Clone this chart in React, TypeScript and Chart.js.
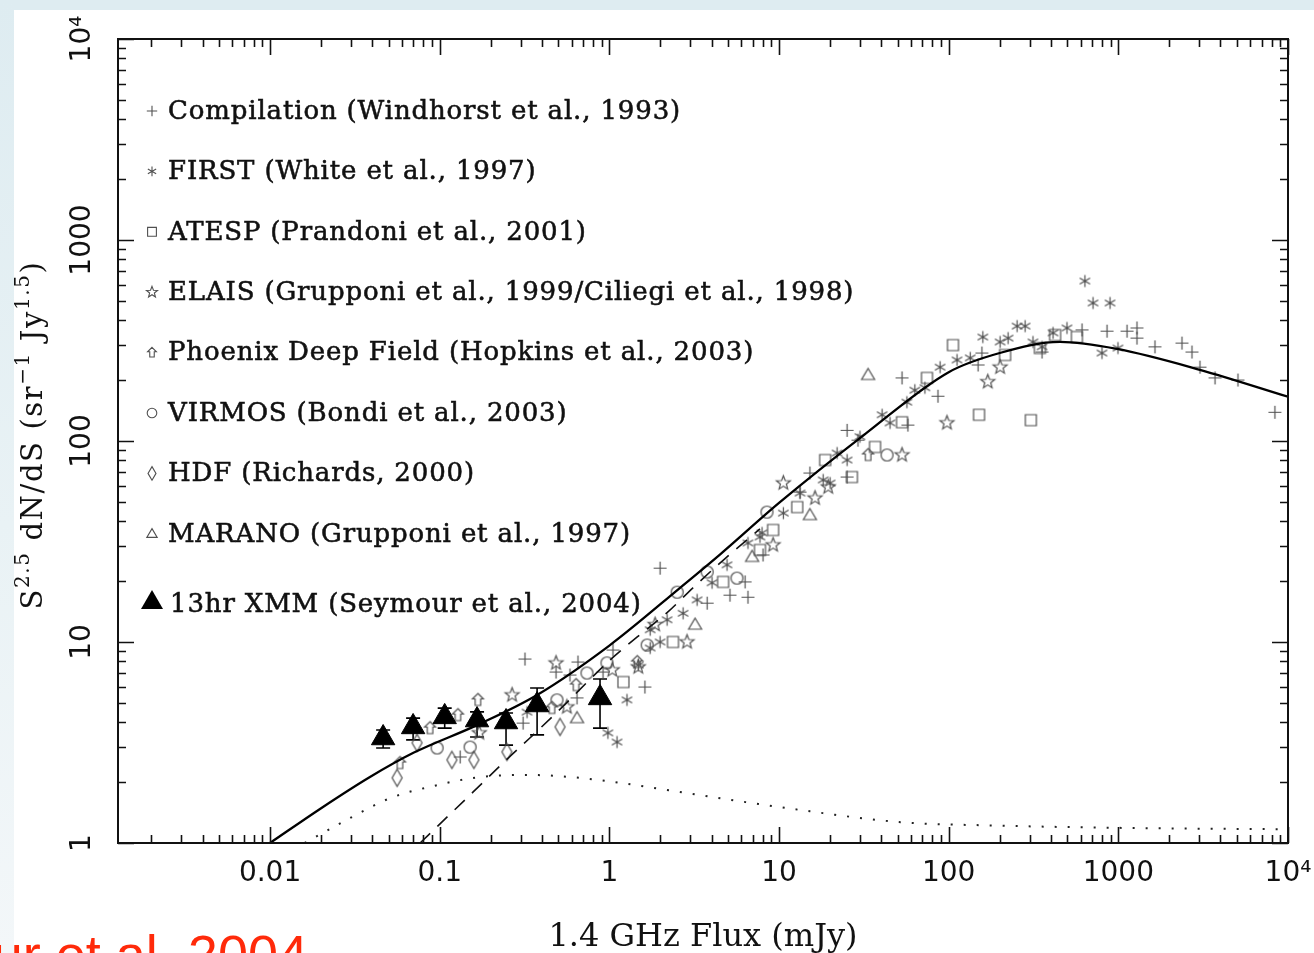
import React, { useEffect, useRef } from 'react';
import { Chart, registerables } from 'chart.js';

Chart.register(...registerables);

// ---------- axis ----------
const X_MIN = 0.00127;
const X_MAX = 10000;
const Y_MIN = 1;
const Y_MAX = 10000;
const xTickValues = [0.01, 0.1, 1, 10, 100, 1000, 10000];
const xTickLabels = ['0.01', '0.1', '1', '10', '100', '1000', '10⁴'];
const yTickValues = [1, 10, 100, 1000, 10000];
const yTickLabels = ['1', '10', '100', '1000', '10⁴'];
const xTitle = '1.4 GHz Flux (mJy)';
const yTitleParts: [string, boolean][] = [
  ['S', false], ['2.5', true], [' dN/dS (sr', false], ['−1', true], [' Jy', false], ['1.5', true], [')', false],
];
const creditText = 'Seymour et al. 2004';

// ---------- model curves ----------
const solidX = [0.01, 0.02, 0.0388, 0.07, 0.166, 0.375, 1, 2.61, 4.5, 10, 31.6, 100, 200, 453, 981, 3027, 10000];
const solidY = [1.0, 1.49, 2.13, 2.81, 3.86, 5.45, 9.6, 18.6, 27.3, 49.2, 107, 220, 274, 311, 287, 226, 166];
const dashX = [0.0766, 0.157, 0.236, 0.34, 0.492, 1.01, 1.46, 2.19, 3.11, 4.68, 7.72];
const dashY = [1.0, 1.79, 2.5, 3.33, 4.48, 8.14, 10.6, 14.0, 18.6, 25.5, 36.5];
const dotX = [0.016, 0.0296, 0.0509, 0.0965, 0.173, 0.34, 0.586, 1.16, 3.42, 13.3, 51.7, 201, 981, 10000];
const dotY = [1.0, 1.33, 1.67, 1.94, 2.13, 2.18, 2.13, 1.99, 1.73, 1.46, 1.27, 1.22, 1.19, 1.17];

// ---------- survey data ----------
const compX = [0.132, 0.318, 0.485, 0.653, 0.645, 0.31, 1.05, 1.62, 1.99, 0.586, 0.918, 5.14, 6.56, 6.31, 8.05, 3.77, 25.2, 15.2, 86.5, 57.5, 29.2, 25.2, 13.3, 53.1, 157, 149, 355, 611, 858, 1125, 1288, 1288, 1644, 2371, 2717, 3027, 3715, 5070, 8375];
const compY = [2.68, 8.23, 7.09, 7.95, 5.27, 3.95, 9.12, 5.97, 23.3, 6.85, 7.09, 17.1, 16.7, 19.9, 27.1, 15.6, 113, 69.3, 167, 120, 101, 66.2, 55.7, 206, 274, 239, 277, 357, 352, 352, 365, 325, 294, 307, 277, 233, 206, 201, 139];

const firstX = [635, 709, 893, 801, 995, 253, 282, 159, 201, 224, 314, 355, 412, 498, 89, 112, 134, 63.2, 56.7, 72.4, 40.5, 45.1, 30.0, 25.2, 22.0, 18.2, 20.0, 13.3, 10.6, 7.72, 6.56, 7.94, 4.94, 4.03, 3.29, 2.72, 2.19, 1.74, 1.74, 1.48, 1.27, 1.99, 0.98, 1.11, 0.327];
const firstY = [625, 486, 486, 274, 290, 373, 373, 329, 311, 325, 311, 294, 345, 365, 233, 253, 259, 179, 156, 184, 135, 123, 105, 80.4, 87.1, 64.0, 61.8, 55.1, 43.8, 33.3, 31.1, 34.9, 24.2, 19.7, 16.2, 13.9, 12.9, 11.5, 9.34, 7.68, 5.15, 10.0, 3.53, 3.18, 4.48];

const atespX = [106, 151, 305, 215, 74.5, 424, 345, 570, 53.1, 36.8, 26.9, 18.7, 12.8, 9.23, 7.72, 4.68, 2.37, 1.21];
const atespY = [300, 135, 127, 268, 206, 337, 290, 329, 124, 93.4, 66.2, 80.4, 46.9, 36.1, 28.7, 19.9, 10.0, 6.32];

const elaisX = [201, 170, 97.7, 53.1, 10.6, 16.3, 19.5, 9.23, 2.87, 1.86, 1.48, 0.485, 0.267, 0.562, 0.171, 1.04];
const elaisY = [233, 197, 123, 85.2, 61.8, 52.0, 59.0, 30.4, 10.0, 12.2, 7.51, 7.86, 5.45, 4.75, 3.53, 7.26];

const phoenixX = [0.636, 0.459, 0.168, 0.128, 0.0877, 0.0583, 1.46, 33.5];
const phoenixY = [6.11, 4.7, 5.15, 4.33, 3.73, 2.5, 7.95, 85.2];

const virmosX = [43.3, 8.49, 5.65, 3.77, 2.51, 1.67, 0.738, 0.491, 0.151, 0.0965, 0.968];
const virmosY = [85.2, 44.3, 20.8, 22.3, 17.7, 9.66, 7.01, 5.15, 3.0, 2.97, 7.87];

const hdfX = [0.512, 0.249, 0.118, 0.159, 0.0735, 0.0561];
const hdfY = [3.78, 2.84, 2.59, 2.59, 3.15, 2.11];

const maranoX = [33.5, 15.2, 3.2, 6.94, 0.645];
const maranoY = [213, 42.8, 12.2, 26.5, 4.18];

const xmmX = [0.0464, 0.0697, 0.107, 0.166, 0.246, 0.375, 0.881];
const xmmY = [3.33, 3.78, 4.24, 4.09, 4.0, 4.86, 5.27];
const xmmLo = [2.97, 3.26, 3.73, 3.37, 3.07, 3.45, 3.73];
const xmmHi = [3.65, 4.18, 4.69, 4.49, 4.43, 5.9, 6.55];

// ---------- legend ----------
const legendKinds = ['plus', 'asterisk', 'square', 'star', 'phoenix', 'circle', 'diamond', 'triangle'];
const legendLabels = [
  'Compilation (Windhorst et al., 1993)',
  'FIRST (White et al., 1997)',
  'ATESP (Prandoni et al., 2001)',
  'ELAIS (Grupponi et al., 1999/Ciliegi et al., 1998)',
  'Phoenix Deep Field (Hopkins et al., 2003)',
  'VIRMOS (Bondi et al., 2003)',
  'HDF (Richards, 2000)',
  'MARANO (Grupponi et al., 1997)',
];
const xmmLabel = '13hr XMM (Seymour et al., 2004)';

const MARK_COLOR = '#505050';

function drawShape(g: CanvasRenderingContext2D, kind: string, s: number) {
  g.beginPath();
  switch (kind) {
    case 'plus':
      g.moveTo(-6.5 * s, 0); g.lineTo(6.5 * s, 0);
      g.moveTo(0, -6.5 * s); g.lineTo(0, 6.5 * s);
      break;
    case 'asterisk':
      for (let k = 0; k < 3; k++) {
        const a = Math.PI / 2 + (k * Math.PI) / 3;
        g.moveTo(Math.cos(a) * 6 * s, Math.sin(a) * 6 * s);
        g.lineTo(-Math.cos(a) * 6 * s, -Math.sin(a) * 6 * s);
      }
      break;
    case 'square':
      g.rect(-5.5 * s, -5.5 * s, 11 * s, 11 * s);
      break;
    case 'star':
      for (let k = 0; k < 10; k++) {
        const r = k % 2 ? 3.1 * s : 7.3 * s;
        const a = -Math.PI / 2 + (k * Math.PI) / 5;
        const px = Math.cos(a) * r, py = Math.sin(a) * r;
        if (k === 0) g.moveTo(px, py); else g.lineTo(px, py);
      }
      g.closePath();
      break;
    case 'phoenix': {
      const p = [[0, -6.5], [5.5, -1], [2.8, -1], [2.8, 5.5], [-2.8, 5.5], [-2.8, -1], [-5.5, -1]];
      p.forEach(([a, b], i) => (i === 0 ? g.moveTo(a * s, b * s) : g.lineTo(a * s, b * s)));
      g.closePath();
      break;
    }
    case 'circle':
      g.arc(0, 0, 6 * s, 0, Math.PI * 2);
      break;
    case 'diamond':
      g.moveTo(0, -8.5 * s); g.lineTo(5 * s, 0); g.lineTo(0, 8.5 * s); g.lineTo(-5 * s, 0); g.closePath();
      break;
    case 'triangle':
      g.moveTo(0, -6.5 * s); g.lineTo(6.5 * s, 4.5 * s); g.lineTo(-6.5 * s, 4.5 * s); g.closePath();
      break;
  }
  g.stroke();
}

function makeMarker(kind: string, s: number): HTMLCanvasElement {
  const c = document.createElement('canvas');
  const size = 21;
  c.width = size; c.height = size;
  const g = c.getContext('2d')!;
  g.translate(size / 2, size / 2);
  g.strokeStyle = MARK_COLOR;
  g.lineWidth = 1.2;
  drawShape(g, kind, s);
  return c;
}

const pts = (xs: number[], ys: number[]) => xs.map((x, i) => ({ x, y: ys[i] }));

function setSpacing(ctx: any, v: string) {
  try { ctx.letterSpacing = v; } catch (e) { /* ignore */ }
}

const decorPlugin = {
  id: 'decor',
  beforeDatasetsDraw(chart: any) {
    const { ctx } = chart;
    const xs = chart.scales.x, ys = chart.scales.y;
    ctx.save();
    ctx.strokeStyle = '#000';
    ctx.lineWidth = 1.6;
    for (let i = 0; i < xmmX.length; i++) {
      const px = xs.getPixelForValue(xmmX[i]);
      const lo = ys.getPixelForValue(xmmLo[i]);
      const hi = ys.getPixelForValue(xmmHi[i]);
      ctx.beginPath();
      ctx.moveTo(px, lo); ctx.lineTo(px, hi);
      ctx.moveTo(px - 7, lo); ctx.lineTo(px + 7, lo);
      ctx.moveTo(px - 7, hi); ctx.lineTo(px + 7, hi);
      ctx.stroke();
    }
    ctx.restore();
  },
  afterDraw(chart: any) {
    const { ctx, chartArea: a } = chart;
    const xs = chart.scales.x, ys = chart.scales.y;
    ctx.save();
    // ticks (inward, all four sides)
    ctx.strokeStyle = '#111';
    ctx.lineWidth = 1.6;
    ctx.beginPath();
    for (let d = -3; d <= 4; d++) {
      for (let m = 1; m <= 9; m++) {
        const v = m * Math.pow(10, d);
        if (v < X_MIN || v > X_MAX * 1.0001) continue;
        const p = Math.round(xs.getPixelForValue(v)) + 0.5;
        const L = m === 1 ? 16 : 8;
        ctx.moveTo(p, a.bottom); ctx.lineTo(p, a.bottom - L);
        ctx.moveTo(p, a.top); ctx.lineTo(p, a.top + L);
      }
    }
    for (let d = 0; d <= 4; d++) {
      for (let m = 1; m <= 9; m++) {
        const v = m * Math.pow(10, d);
        if (v < Y_MIN || v > Y_MAX * 1.0001) continue;
        const p = Math.round(ys.getPixelForValue(v)) + 0.5;
        const L = m === 1 ? 16 : 8;
        ctx.moveTo(a.left, p); ctx.lineTo(a.left + L, p);
        ctx.moveTo(a.right, p); ctx.lineTo(a.right - L, p);
      }
    }
    ctx.stroke();
    ctx.lineWidth = 2;
    ctx.strokeRect(a.left, a.top, a.right - a.left, a.bottom - a.top);

    // legend
    ctx.fillStyle = '#111';
    ctx.strokeStyle = '#111';
    ctx.textBaseline = 'middle';
    ctx.textAlign = 'left';
    ctx.font = '26px "DejaVu Serif"';
    setSpacing(ctx, '0.85px');
    for (let i = 0; i < legendLabels.length; i++) {
      const y = a.top + 72 + i * 60.4;
      ctx.save();
      ctx.translate(a.left + 34, y);
      ctx.strokeStyle = MARK_COLOR;
      ctx.lineWidth = 1.1;
      drawShape(ctx, legendKinds[i], 0.8);
      ctx.restore();
      ctx.lineWidth = 0.55;
      ctx.fillText(legendLabels[i], a.left + 50, y + 1);
      ctx.strokeText(legendLabels[i], a.left + 50, y + 1);
    }
    const yx = a.top + 565;
    ctx.save();
    ctx.translate(a.left + 34, yx - 3);
    ctx.fillStyle = '#000';
    ctx.beginPath();
    ctx.moveTo(0, -11); ctx.lineTo(11, 8); ctx.lineTo(-11, 8); ctx.closePath();
    ctx.fill();
    ctx.restore();
    ctx.lineWidth = 0.55;
    ctx.fillText(xmmLabel, a.left + 52, yx + 1);
    ctx.strokeText(xmmLabel, a.left + 52, yx + 1);
    setSpacing(ctx, '0px');

    // y-axis title with superscripts
    ctx.save();
    const cy = (a.top + a.bottom) / 2 - 6;
    ctx.translate(a.left - 76, cy);
    ctx.rotate(-Math.PI / 2);
    ctx.textBaseline = 'alphabetic';
    ctx.fillStyle = '#111';
    setSpacing(ctx, '1.6px');
    const nf = '29px "DejaVu Serif"', sf = '20px "DejaVu Serif"';
    let total = 0;
    for (const [t, sup] of yTitleParts) { ctx.font = sup ? sf : nf; total += ctx.measureText(t).width; }
    let x = -total / 2;
    for (const [t, sup] of yTitleParts) {
      ctx.font = sup ? sf : nf;
      ctx.fillText(t, x, sup ? -13 : 0);
      x += ctx.measureText(t).width;
    }
    setSpacing(ctx, '0px');
    ctx.restore();
    ctx.restore();
  },
};

export default function App() {
  const ref = useRef<HTMLCanvasElement>(null);
  useEffect(() => {
    const canvas = ref.current!;
    const open = (label: string, xs: number[], ys: number[], kind: string) => ({
      label,
      data: pts(xs, ys),
      pointStyle: makeMarker(kind, 1),
      pointRadius: 7,
      showLine: false,
      borderColor: MARK_COLOR,
      backgroundColor: 'rgba(0,0,0,0)',
    });
    const datasets: any[] = [
      {
        label: '13hr XMM', data: pts(xmmX, xmmY), pointStyle: 'triangle', pointRadius: 13.5,
        backgroundColor: '#000', borderColor: '#000', borderWidth: 1, showLine: false,
      },
      {
        label: 'Total', data: pts(solidX, solidY), showLine: true, pointRadius: 0,
        borderColor: '#000', borderWidth: 2.3, cubicInterpolationMode: 'monotone', fill: false,
      },
      {
        label: 'AGN', data: pts(dashX, dashY), showLine: true, pointRadius: 0,
        borderColor: '#111', borderWidth: 1.6, borderDash: [14, 10], cubicInterpolationMode: 'monotone', fill: false,
      },
      {
        label: 'Star-forming', data: pts(dotX, dotY), showLine: true, pointRadius: 0,
        borderColor: '#222', borderWidth: 2, borderDash: [2, 11], cubicInterpolationMode: 'monotone', fill: false,
      },
      open('Compilation', compX, compY, 'plus'),
      open('FIRST', firstX, firstY, 'asterisk'),
      open('ATESP', atespX, atespY, 'square'),
      open('ELAIS', elaisX, elaisY, 'star'),
      open('Phoenix', phoenixX, phoenixY, 'phoenix'),
      open('VIRMOS', virmosX, virmosY, 'circle'),
      open('HDF', hdfX, hdfY, 'diamond'),
      open('MARANO', maranoX, maranoY, 'triangle'),
    ];
    const chart = new Chart(canvas, {
      type: 'scatter',
      data: { datasets },
      options: {
        responsive: false,
        animation: false,
        events: [],
        layout: { padding: { top: 39, right: 26, left: 0, bottom: 0 } },
        plugins: { legend: { display: false }, tooltip: { enabled: false } },
        scales: {
          x: {
            type: 'logarithmic', position: 'bottom', min: X_MIN, max: X_MAX,
            grid: { display: false, drawTicks: false }, border: { display: false },
            afterBuildTicks: (s: any) => { s.ticks = xTickValues.map((v) => ({ value: v })); },
            afterFit: (s: any) => { s.height = 110; s.paddingRight = 0; s.paddingLeft = 0; },
            ticks: {
              autoSkip: false, maxRotation: 0, minRotation: 0, padding: 14, color: '#111',
              font: { family: 'DejaVu Sans', size: 28 },
              callback: (_v: any, i: number) => xTickLabels[i],
            },
            title: {
              display: true, text: xTitle, color: '#111',
              font: { family: 'DejaVu Serif', size: 32 }, padding: { top: 0, bottom: -4 },
            },
          },
          y: {
            type: 'logarithmic', position: 'left', min: Y_MIN, max: Y_MAX,
            grid: { display: false, drawTicks: false }, border: { display: false },
            afterBuildTicks: (s: any) => { s.ticks = yTickValues.map((v) => ({ value: v })); },
            afterFit: (s: any) => { s.width = 118; s.paddingTop = 0; s.paddingBottom = 0; },
            ticks: {
              autoSkip: false, minRotation: 90, maxRotation: 90, crossAlign: 'center', padding: 0, color: '#111',
              font: { family: 'DejaVu Sans', size: 28 },
              callback: (_v: any, i: number) => yTickLabels[i],
            },
          },
        },
      } as any,
      plugins: [decorPlugin],
    });
    return () => chart.destroy();
  }, []);

  return (
    <div style={{ position: 'fixed', left: 0, top: 0, width: 1314, height: 953, overflow: 'hidden', background: '#ffffff' }}>
      <div style={{ position: 'absolute', left: 0, top: 0, width: 1314, height: 10, background: '#deecf1' }} />
      <div style={{ position: 'absolute', left: 0, top: 0, width: 14, height: 953, background: 'linear-gradient(#deecf1, #e9f2f5 55%, #f3f7f9)' }} />
      <canvas ref={ref} width={1314} height={953} style={{ position: 'absolute', left: 0, top: 0, width: 1314, height: 953 }} />
      <div style={{ position: 'absolute', right: 1006, top: 927, whiteSpace: 'nowrap', color: '#ff2a0a', font: '54px "Liberation Sans", Arial, sans-serif', lineHeight: 1 }}>
        {creditText}
      </div>
    </div>
  );
}
